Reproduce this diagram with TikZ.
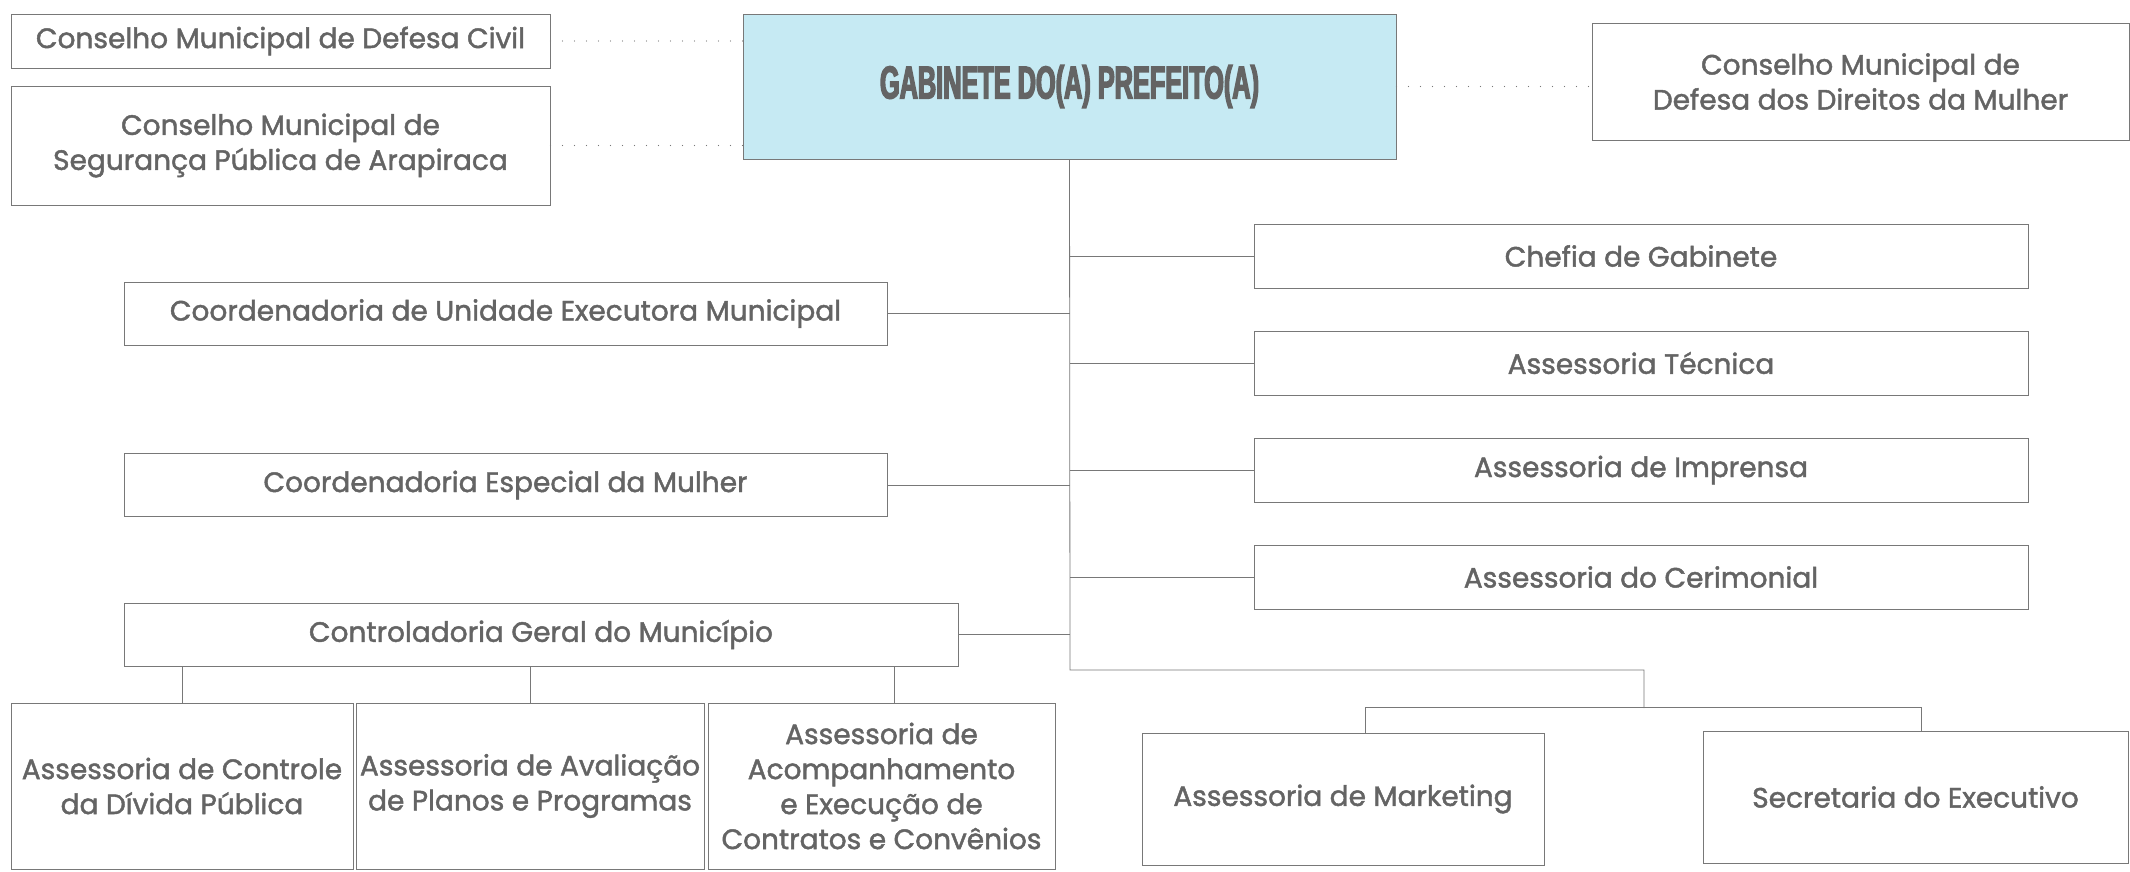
\documentclass[tikz,border=0pt]{standalone}
\usepackage{fontspec}
\setmainfont{Poppins}[FakeBold=1.6]
\newfontfamily\titlefont[FakeStretch=0.55,FakeBold=3]{Liberation Sans}
\usepackage{tikz}
\usetikzlibrary{positioning}

\definecolor{linegray}{RGB}{120,120,120}
\definecolor{textgray}{RGB}{100,100,100}
\definecolor{gabblue}{RGB}{198,234,243}

\begin{document}
\begin{tikzpicture}[
            x=1pt,y=-1pt,
            box/.style={draw=linegray,line width=0.8pt,align=center,inner sep=0pt,text=textgray,font=\fontsize{28}{35}\selectfont},
            chief/.style={box,fill=gabblue,font=\titlefont\bfseries\fontsize{46}{48}\selectfont},
            link/.style={draw=linegray,line width=0.8pt},
            dots/.style={draw=linegray,line width=1.3pt,line cap=round,dash pattern=on 0pt off 12pt}
          ]
          \useasboundingbox (0,0) rectangle (2130,871);

          \node[chief,minimum width=653,minimum height=145] (gab) at (1069.5,86.5) {GABINETE DO(A) PREFEITO(A)};

          %conselhos
          \node[box,minimum width=539,minimum height=54] (civil) at (280.5,41) {Conselho Municipal de Defesa Civil};
          \node[box,minimum width=539,minimum height=119] (seg) at (280.5,145.5) {Conselho Municipal de\\Segurança Pública de Arapiraca};
          \node[box,minimum width=537,minimum height=117] (cmdm) at (1860.5,81.5) {Conselho Municipal de\\Defesa dos Direitos da Mulher};

          %assessorias
          \node[box,minimum width=774,minimum height=64] (chefia) at (1641,256) {Chefia de Gabinete};
          \node[box,minimum width=774,minimum height=64] (tecnica) at (1641,363) {Assessoria Técnica};
          \node[box,minimum width=774,minimum height=64] (imprensa) at (1641,470) {Assessoria de Imprensa};
          \node[box,minimum width=774,minimum height=64] (cerim) at (1641,577) {Assessoria do Cerimonial};

          %coordenadorias
          \node[box,minimum width=763,minimum height=63] (cuem) at (505.5,313.5) {Coordenadoria de Unidade Executora Municipal};
          \node[box,minimum width=763,minimum height=63] (cem) at (505.5,485) {Coordenadoria Especial da Mulher};
          \node[box,minimum width=834,minimum height=63] (cgm) at (541,634.5) {Controladoria Geral do Município};

          %controladoria
          \node[box,minimum width=342,minimum height=166] (acdp) at (182,786) {Assessoria de Controle\\da Dívida Pública};
          \node[box,minimum width=348,minimum height=166] (aapp) at (530,786) {Assessoria de Avaliação\\de Planos e Programas};
          \node[box,minimum width=347,minimum height=166] (aaec) at (881.5,786) {Assessoria de\\Acompanhamento\\e Execução de\\Contratos e Convênios};

          %bottom right
          \node[box,minimum width=402,minimum height=132] (mkt) at (1343,799) {Assessoria de Marketing};
          \node[box,minimum width=425,minimum height=132] (sec) at (1915.5,797) {Secretaria do Executivo};

          %links
          \coordinate (trunk) at (1070,670);
          \coordinate (split) at (1644,670);
          \coordinate (fork) at (1644,708);
          \path[link] (gab.south) -- (trunk) -- (split) -- (fork);
          \path[link] ([xshift=22]mkt.north) -- ++(0,-25) -| ([xshift=6]sec.north);

          \path[link]
          (chefia.west) edge (chefia.west -| trunk)
          (tecnica.west) edge (tecnica.west -| trunk)
          (imprensa.west) edge (imprensa.west -| trunk)
          (cerim.west) edge (cerim.west -| trunk)
          (cuem.east) edge (cuem.east -| trunk)
          (cem.east) edge (cem.east -| trunk)
          (cgm.east) edge (cgm.east -| trunk)
          (acdp.north) edge (acdp.north |- cgm.south)
          (aapp.north) edge (aapp.north |- cgm.south)
          ([xshift=13]aaec.north) edge ([xshift=13]aaec.north |- cgm.south)
          ;

          %dotted
          \path[dots] (civil.east) -- (civil.east -| gab.west);
          \path[dots] (seg.east) -- (seg.east -| gab.west);
          \path[dots] (gab.east) -- (gab.east -| cmdm.west);
      \end{tikzpicture}
\end{document}
